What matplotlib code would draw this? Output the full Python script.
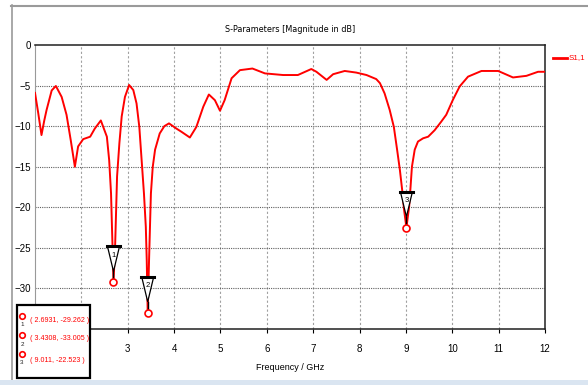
import matplotlib
matplotlib.use("Agg")
import matplotlib.pyplot as plt
from matplotlib.lines import Line2D
from matplotlib.patches import Polygon, Rectangle
from matplotlib.transforms import IdentityTransform

# --- Data (S1,1, dB) ---
freq = [1.00, 1.07, 1.14, 1.20, 1.25, 1.36, 1.45, 1.575, 1.68, 1.77, 1.86,
        1.93, 2.04, 2.19, 2.29, 2.42, 2.55, 2.60, 2.64, 2.66, 2.67, 2.6931,
        2.73, 2.75, 2.77, 2.82, 2.87, 2.94, 3.03, 3.12, 3.19, 3.25, 3.30,
        3.35, 3.39, 3.41, 3.4308, 3.46, 3.48, 3.50, 3.54, 3.59, 3.69, 3.79,
        3.89, 4.05, 4.16, 4.34, 4.48, 4.63, 4.75, 4.88, 4.99, 5.09, 5.24,
        5.42, 5.69, 5.96, 6.35, 6.67, 6.96, 7.07, 7.29, 7.43, 7.68, 7.93,
        8.15, 8.36, 8.44, 8.54, 8.65, 8.74, 8.81, 8.87, 8.92, 8.96, 9.011,
        9.07, 9.10, 9.13, 9.19, 9.26, 9.37, 9.48, 9.62, 9.76, 9.87, 10.01,
        10.16, 10.34, 10.63, 10.99, 11.31, 11.60, 11.85, 12.00]
s11 = [-5.9, -8.4, -11.1, -9.3, -8.0, -5.6, -5.05, -6.4, -8.6, -11.7, -15.0,
       -12.5, -11.6, -11.3, -10.3, -9.3, -11.3, -14.2, -18.3, -22.4, -24.4,
       -29.262, -24.4, -20.3, -16.2, -12.1, -8.8, -6.4, -4.93, -5.55, -7.2,
       -10.1, -14.2, -18.3, -22.4, -26.5, -33.005, -26.5, -22.4, -18.3,
       -15.0, -12.9, -10.9, -10.0, -9.66, -10.3, -10.7, -11.4, -10.1, -7.6,
       -6.1, -6.8, -8.1, -6.8, -4.1, -3.1, -2.9, -3.5, -3.7, -3.7, -2.96,
       -3.3, -4.3, -3.6, -3.2, -3.4, -3.7, -4.2, -4.7, -5.96, -8.0, -10.1,
       -12.9, -15.4, -17.9, -20.3, -22.523, -19.9, -17.5, -15.0, -12.9,
       -11.9, -11.5, -11.3, -10.5, -9.46, -8.6, -6.8, -5.1, -3.9, -3.2,
       -3.2, -4.0, -3.8, -3.3, -3.3]

marker_freq = [2.6931, 3.4308, 9.011]
marker_db = [-29.262, -33.005, -22.523]
marker_names = ["1", "2", "3"]
marker_labels = ["( 2.6931, -29.262 )", "( 3.4308, -33.005 )",
                 "( 9.011, -22.523 )"]

x_ticks = list(range(1, 13))
x_labels = ["", ""] + [str(x) for x in range(3, 13)]  # 1, 2 sit under the box
y_ticks = [0, -5, -10, -15, -20, -25, -30]

W, H = 588, 385
RED = "#ff0000"

plt.rcParams["font.family"] = ["Liberation Sans", "DejaVu Sans"]


def fx(px):
    return px / W


def fy(py):
    # pixel row (from top) -> figure fraction
    return 1 - py / H


fig = plt.figure(figsize=(W / 100, H / 100), dpi=100)
ax = fig.add_axes([fx(35), fy(329), 510 / W, 284 / H])

ax.plot(freq, s11, color=RED, lw=1.4, solid_joinstyle="round", zorder=3)

ax.set_xlim(1, 12)
ax.set_ylim(-35, 0)
ax.set_xticks(x_ticks, x_labels)
ax.set_yticks(y_ticks)
ax.tick_params(axis="x", length=3, width=0.8, pad=8, labelsize=7)
ax.tick_params(axis="y", length=0, pad=3, labelsize=7)

# grid: sparse gray vertical, dense dark horizontal
for x in x_ticks[1:-1]:
    ax.axvline(x, color="#a0a0a0", lw=0.8, ls=(0, (2, 2)), zorder=1)
for y in y_ticks[1:]:
    ax.axhline(y, color="#606060", lw=0.8, ls=(0, (1, 1)), zorder=1)

for side in ["top", "bottom", "right"]:
    ax.spines[side].set_color("#202020")
    ax.spines[side].set_linewidth(1.1)
ax.spines["left"].set_color("#999999")
ax.spines["left"].set_linewidth(0.8)

# --- markers (triangle flags drawn in pixels above each point) ---
fig.canvas.draw()
for f, d, name in zip(marker_freq, marker_db, marker_names):
    px, py = ax.transData.transform((f, d))
    tri = Polygon([(px - 6, py + 36), (px + 6, py + 36), (px, py + 11)],
                  closed=True, fc="white", ec="black", lw=0.9,
                  transform=IdentityTransform(), zorder=5, clip_on=False)
    ax.add_patch(tri)
    ax.add_line(Line2D([px - 6.5, px + 6.5], [py + 36, py + 36], color="black",
                       lw=2.2, transform=IdentityTransform(), zorder=6))
    ax.add_line(Line2D([px, px], [py + 11, py + 3], color="black", lw=1,
                       transform=IdentityTransform(), zorder=5))
    ax.text(px, py + 27, name, ha="center", va="center", fontsize=5.5,
            color="black", transform=IdentityTransform(), zorder=6)
ax.plot(marker_freq, marker_db, "o", ms=5, mfc="white", mec=RED, mew=1.2,
        zorder=7, clip_on=False)

# --- marker value box ---
fig.add_artist(Rectangle((fx(17), fy(378)), 73 / W, 73 / H,
                         transform=fig.transFigure, fc="white", ec="black",
                         lw=1.6, zorder=10))
rows_text = [320, 339, 360]
rows_icon = [316, 335, 354]
for label, name, ty, iy in zip(marker_labels, marker_names, rows_text, rows_icon):
    fig.add_artist(Line2D([fx(22)], [fy(iy)], marker="o", ms=4, mfc="white",
                          mec=RED, mew=1.2, transform=fig.transFigure,
                          zorder=11))
    fig.text(fx(22), fy(iy + 9), name, ha="center", va="center",
             fontsize=4.5, color="#202020", zorder=11)
    fig.text(fx(30), fy(ty), label, ha="left", va="center", fontsize=5.1,
             color=RED, zorder=11)

# --- titles and legend ---
fig.text(fx(290), fy(30), "S-Parameters [Magnitude in dB]", ha="center",
         va="center", fontsize=6.5, family="DejaVu Sans", stretch="condensed")
fig.text(fx(290), fy(368), "Frequency / GHz", ha="center", va="center",
         fontsize=6.5)
fig.add_artist(Line2D([fx(553), fx(567)], [fy(58), fy(58)], color=RED, lw=2,
                      transform=fig.transFigure))
fig.text(fx(569), fy(58), "S1,1", ha="left", va="center", fontsize=5.8,
         color=RED)

# --- window frame bits ---
fig.add_artist(Line2D([fx(11), 1], [fy(5.5), fy(5.5)], color="#9a9a9a", lw=1.5,
                      transform=fig.transFigure))
fig.add_artist(Line2D([fx(11.5), fx(11.5)], [fy(5), fy(380)], color="#9a9a9a",
                      lw=1.2, transform=fig.transFigure))
fig.add_artist(Rectangle((0, 0), 1, 5 / H, transform=fig.transFigure,
                         fc="#dae5f1", ec="none", zorder=12))

fig.savefig("out.png", dpi=100)
